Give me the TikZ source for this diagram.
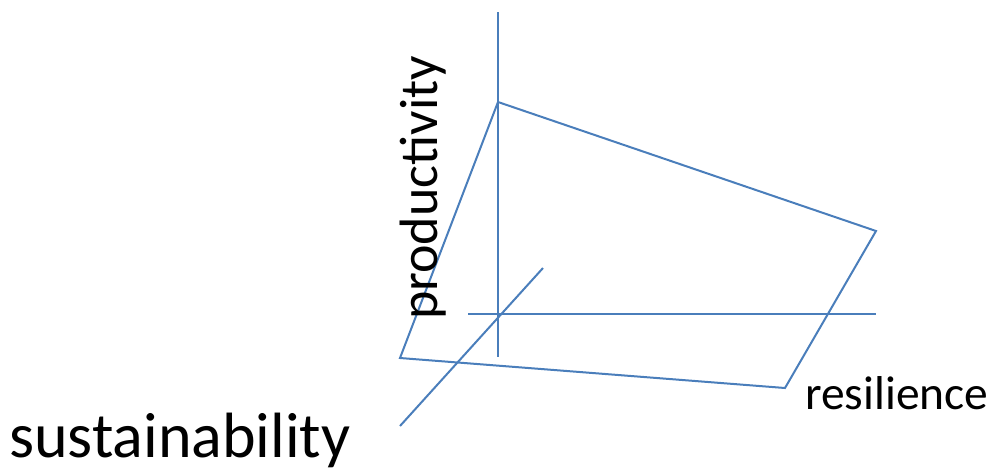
\documentclass[tikz,border=0pt]{standalone}
\usepackage{fontspec}
\setmainfont{Carlito}
\definecolor{axisblue}{HTML}{4A7EBB}
\tikzset{
  axisline/.style={draw=axisblue, line width=2pt},
  shapeline/.style={draw=axisblue, line width=2pt, line join=miter},
  lbl/.style={inner sep=0pt, text=black}
}
\begin{document}
\begin{tikzpicture}[x=1pt,y=-1pt]
\useasboundingbox (0,0) rectangle (994,467);
% axes
\coordinate (vtop) at (498,12);
\coordinate (vbot) at (498,357);
\coordinate (hl) at (468,314);
\coordinate (hr) at (876,314);
\coordinate (dlo) at (400,426);
\coordinate (dhi) at (543,268);
\draw[axisline] (vtop) -- (vbot);
\draw[axisline] (hl) -- (hr);
\draw[axisline] (dlo) -- (dhi);
% quadrilateral
\coordinate (qp) at (498,102);
\coordinate (qr) at (876,231);
\coordinate (qb) at (785,388);
\coordinate (qs) at (400,358);
\draw[shapeline] (qp) -- (qr) -- (qb) -- (qs) -- cycle;
% labels
\node[lbl, font=\fontsize{54}{60}\selectfont, rotate=90, anchor=base west] (prod) at (437,320) {productivity};
\node[lbl, font=\fontsize{64}{70}\selectfont, anchor=base west] (sust) at (9,457) {sustainability};
\node[lbl, font=\fontsize{47.5}{52}\selectfont, anchor=base west] (res) at (805,409) {resilience};
\end{tikzpicture}
\end{document}
